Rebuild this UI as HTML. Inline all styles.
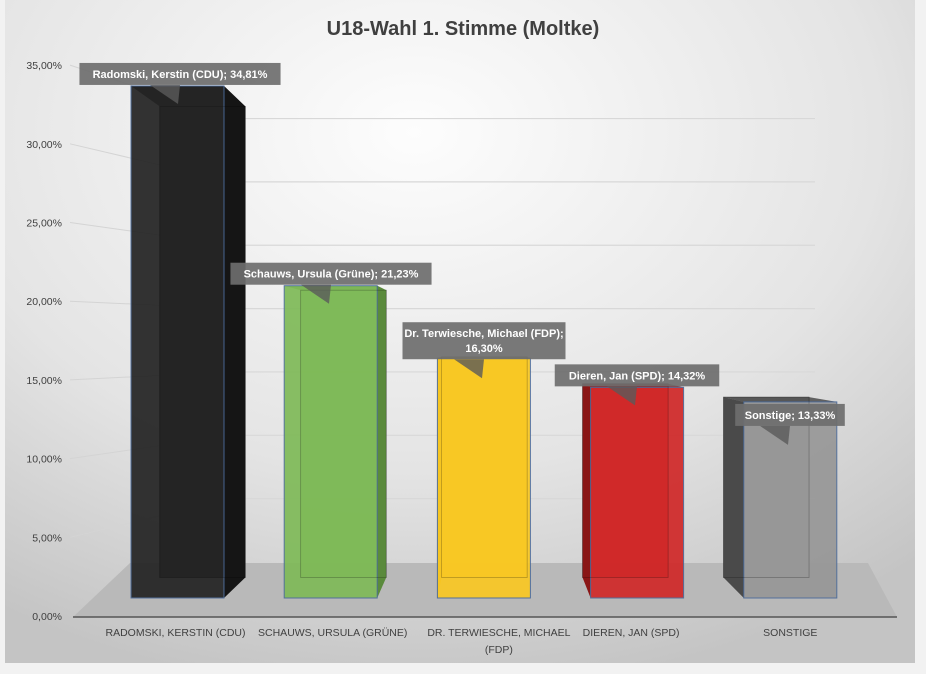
<!DOCTYPE html>
<html><head><meta charset="utf-8"><style>
body{margin:0;width:926px;height:674px;overflow:hidden;background:#fff}
svg{display:block;font-family:"Liberation Sans",sans-serif}
</style></head><body>
<svg id="chart" width="926" height="674" viewBox="0 0 926 674">
<defs>
<radialGradient id="bg" cx="0.45" cy="0.2" r="0.85">
<stop offset="0" stop-color="#fdfdfd"/><stop offset="0.6" stop-color="#e4e4e4"/><stop offset="1" stop-color="#c4c4c4"/>
</radialGradient>
</defs>
<rect x="0" y="0" width="926" height="674" fill="#f2f2f2"/>
<rect x="5" y="0" width="910" height="663" fill="url(#bg)"/>
<text x="463" y="35" text-anchor="middle" font-size="20" font-weight="bold" fill="#404040">U18-Wahl 1. Stimme (Moltke)</text>
<g id="grid"></g><g id="floor"></g><g id="bars"></g><g id="labels"></g>
</svg>
<script>
const categories=["RADOMSKI, KERSTIN (CDU)","SCHAUWS, URSULA (GRÜNE)","DR. TERWIESCHE, MICHAEL|(FDP)","DIEREN, JAN (SPD)","SONSTIGE"];
const values=[34.81,21.23,16.30,14.32,13.33];
const dataLabels=["Radomski, Kerstin (CDU); 34,81%","Schauws, Ursula (Grüne); 21,23%","Dr. Terwiesche, Michael (FDP);|16,30%","Dieren, Jan (SPD); 14,32%","Sonstige; 13,33%"];
const ticks=[0,5,10,15,20,25,30,35];
const tickLabels=["0,00%","5,00%","10,00%","15,00%","20,00%","25,00%","30,00%","35,00%"];
const colors=["#232323","#7fba58","#f9c823","#d02828","#979797"];
const sides=["#151515","#5a8a3c","#d9a510","#8a1616","#4a4a4a"];
const NS="http://www.w3.org/2000/svg";
function mk(tag,attrs,parent,txt){const e=document.createElementNS(NS,tag);for(const k in attrs)e.setAttribute(k,attrs[k]);if(txt!==undefined)e.textContent=txt;parent.appendChild(e);return e;}
const yBar=v=>598-v*14.71;
const yLab=v=>616-v*15.74;
const yBack=v=>562-v*12.67;
const xFront=i=>131+i*153.2;
const BW=93;
const VP=[490,342],S=0.92;
const bk=(x,y)=>[VP[0]+(x-VP[0])*S,VP[1]+(y-VP[1])*S];
const grid=document.getElementById('grid');
ticks.forEach((t,i)=>{
 const l=mk('text',{x:62,y:yLab(t)+4,'text-anchor':'end','font-size':10.5,fill:'#404040'},grid,tickLabels[i]);
 
 
 if(t>0){
  const by=yBack(t);
  const d=mk('line',{x1:70,y1:yLab(t),x2:232,y2:by,stroke:'#d4d4d4','stroke-width':1},grid);
  
  
  const g=mk('line',{x1:232,y1:by,x2:815,y2:by,stroke:'#d8d8d8','stroke-width':1.2},grid);
  
  
 }
});
const floor=document.getElementById('floor');
const fl=mk('polygon',{points:'73,617 897,617 868,563 130,563',fill:'#b9b9b9'},floor);


const ax=mk('line',{x1:73,y1:617,x2:897,y2:617,stroke:'#555','stroke-width':1.5},floor);


const bars=document.getElementById('bars'),labels=document.getElementById('labels');
values.forEach((v,i)=>{
 const x0=xFront(i),x1=x0+BW,yt=yBar(v),yb=598;
 const [bx0,by0]=bk(x0,yt),[bx1,by1]=bk(x1,yb);
 const g=mk('g',{},bars);
 
 
 mk('rect',{x:bx0,y:by0,width:bx1-bx0,height:by1-by0,fill:colors[i],stroke:'#666','stroke-width':0.6,opacity:0.9},g);
 const sx=i<2?x1:x0, sbx=i<2?bx1:bx0;
 mk('polygon',{points:`${sx},${yt} ${sbx},${by0} ${sbx},${by1} ${sx},${yb}`,fill:sides[i]},g);
 mk('polygon',{points:`${x0},${yt} ${x1},${yt} ${bx1},${by0} ${bx0},${by0}`,fill:sides[i],opacity:0.85},g);
 mk('rect',{x:x0,y:yt,width:BW,height:yb-yt,fill:colors[i],opacity:0.92,stroke:'#4a6a9a','stroke-width':1},g);
 mk('rect',{x:bx0,y:by0,width:bx1-bx0,height:by1-by0,fill:'none',stroke:'rgba(0,0,0,0.25)','stroke-width':0.8},g);
 // category label
 const parts=categories[i].split('|');
 parts.forEach((p,k)=>{
  const t=mk('text',{x:x0+BW/2+(i===0?-24:i===1?-20:i===2?-7:i===3?-28:-22)+22,y:636+k*17,'text-anchor':'middle','font-size':10.5,fill:'#404040'},labels,p);
  
  
 });
 // data label
 const lp=dataLabels[i].split('|');
 const lw=lp.length>1?163:Math.max(...lp.map(s=>s.length))*6.1+12;
 const lh=lp.length*15+7;
 const cx=[180,331,484,637,790][i];
 const ly=yt-(i===2?36:i===4?-2:23);
 const lg=mk('g',{},labels);
 
 
 mk('polygon',{points:`${cx-30},${ly+lh} ${cx},${ly+lh} ${cx-2},${ly+lh+19}`,fill:'rgba(90,90,90,0.8)'},lg);
 mk('rect',{x:cx-lw/2,y:ly,width:lw,height:lh,fill:'rgba(110,110,110,0.92)'},lg);
 lp.forEach((s,k)=>mk('text',{x:cx,y:ly+15+k*15,'text-anchor':'middle','font-size':11,'font-weight':'bold',fill:'#fff'},lg,s));
});
</script>
</body></html>
